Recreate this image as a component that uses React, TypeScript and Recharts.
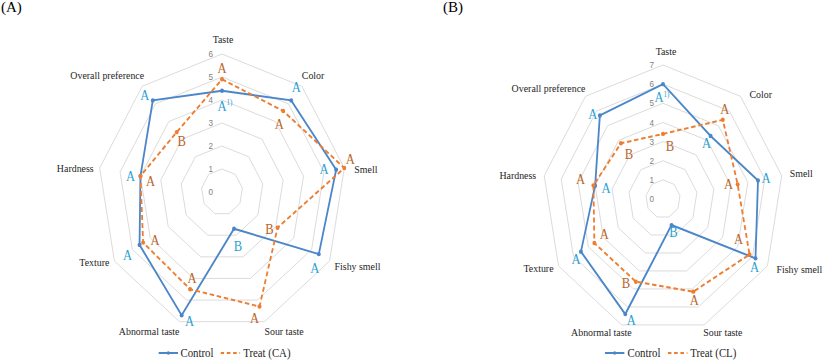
import React from 'react';
import {
  RadarChart,
  Radar,
  PolarGrid,
  PolarAngleAxis,
  PolarRadiusAxis,
  Legend,
} from 'recharts';

const attributes = [
  'Taste',
  'Color',
  'Smell',
  'Fishy smell',
  'Sour taste',
  'Abnormal taste',
  'Texture',
  'Hardness',
  'Overall preference',
];

// Panel (A): Control vs Treat (CA)
const controlA = [4.4, 5.2, 5.6, 5.4, 1.7, 5.7, 4.6, 4.0, 5.2];
const treatCA = [4.9, 4.6, 6.0, 3.1, 5.3, 4.5, 4.4, 4.0, 3.4];
const controlLettersA = ['A', 'A', 'A', 'A', 'B', 'A', 'A', 'A', 'A'];
const treatLettersA = ['A', 'A', 'A', 'B', 'A', 'A', 'A', 'A', 'B'];
const ticksA = [0, 1, 2, 3, 4, 5, 6];

// Panel (B): Control vs Treat (CL)
const controlB = [6.0, 4.3, 5.6, 6.2, 1.45, 6.4, 5.5, 4.0, 5.7];
const treatCL = [3.4, 5.4, 4.4, 5.8, 5.15, 4.6, 4.6, 4.1, 3.8];
const controlLettersB = ['A', 'A', 'A', 'A', 'B', 'A', 'A', 'A', 'A'];
const treatLettersB = ['B', 'A', 'A', 'A', 'A', 'B', 'A', 'A', 'B'];
const ticksB = [0, 1, 2, 3, 4, 5, 6, 7];

const BLUE = '#4a86c8';
const ORANGE = '#ed7d31';
const BLUE_TXT = '#2b9fd3';
const BROWN_TXT = '#b8642a';
const SERIF = "'Liberation Serif', 'Times New Roman', serif";
const SANS = "'Liberation Sans', Arial, sans-serif";
const SX = 0.9; // the figure is squeezed horizontally

// where each significance letter sits relative to its point (screen px)
const ctrlNudgeA = [[0, 15], [5, -13], [-12, 0], [-4, 14], [4, 18], [8, 6], [-12, 10], [-10, 0], [-8, -5]];
const treatNudgeA = [[0, -11], [-4, 13], [6, -9], [-8, 2], [-5, 12], [2, -11], [12, -2], [10, 5], [5, 9]];
const ctrlNudgeB = [[-4, 13], [-4, 7], [8, -2], [-1, 9], [2, 7], [6, 6], [-5, 8], [11, 3], [-7, -1]];
const treatNudgeB = [[7, 12], [2, -11], [-9, 0], [-11, -15], [1, 9], [-10, 2], [10, -9], [-13, -6], [8, 11]];

// category label offsets from the outer vertex (screen px)
const labelOffA = [[1, -15], [0, -11], [10, 1], [5, 5], [0, 10], [0, 10], [-5, 1], [-6, 0], [2, -11]];
const labelOffB = [[3, -14], [9, -2], [8, -2], [9, 3], [-1, 7], [10, 7], [-5, 2], [-8, 0], [0, -8]];

function buildRows(ctrl: number[], treat: number[]) {
  return attributes.map((name, i) => ({ name, control: ctrl[i], treat: treat[i] }));
}

function makeDot(color: string, letters: string[], nudge: number[][], txtColor: string, withNote: boolean) {
  return (p: any) => {
    const i = p.index;
    const lx = p.cx + nudge[i][0] / SX;
    const ly = p.cy + nudge[i][1];
    return (
      <g key={`d-${i}`}>
        <circle cx={p.cx} cy={p.cy} r={2.2} fill={color} stroke="none" />
        <text x={lx} y={ly} textAnchor="middle" dominantBaseline="central" fill={txtColor} fontSize={14} style={{ fontFamily: SERIF }}>
          {letters[i]}
        </text>
        {withNote && i === 0 ? (
          <text x={lx + 5} y={ly - 3} textAnchor="start" dominantBaseline="central" fill={txtColor} fontSize={8} style={{ fontFamily: SERIF }}>
            1)
          </text>
        ) : null}
      </g>
    );
  };
}

function makeAngleTick(cx: number, cy: number, outer: number, offs: number[][]) {
  return (p: any) => {
    const label = String(p.payload.value);
    const i = attributes.indexOf(label);
    const dx = p.x - cx;
    const dy = p.y - cy;
    const len = Math.sqrt(dx * dx + dy * dy) || 1;
    const ux = dx / len;
    const uy = dy / len;
    const anchor = Math.abs(ux) < 0.1 ? 'middle' : ux > 0 ? 'start' : 'end';
    return (
      <text
        x={cx + ux * outer + offs[i][0] / SX}
        y={cy + uy * outer + offs[i][1]}
        textAnchor={anchor}
        dominantBaseline="central"
        fill="#262626"
        fontSize={11}
        style={{ fontFamily: SERIF }}
      >
        {label}
      </text>
    );
  };
}

const radiusTick = (p: any) => (
  <text x={p.x - 10} y={p.y} textAnchor="end" dominantBaseline="central" fill="#7f7f7f" fontSize={9} style={{ fontFamily: SANS }}>
    {p.payload.value}
  </text>
);

function LegendBox({ treatName }: { treatName: string }) {
  return (
    <div style={{ display: 'flex', alignItems: 'center', fontFamily: SERIF, fontSize: 12, color: '#262626', whiteSpace: 'nowrap', lineHeight: '14px' }}>
      <svg width={22} height={8} style={{ marginRight: 3 }}>
        <line x1={0} y1={4} x2={22} y2={4} stroke={BLUE} strokeWidth={2} />
        <circle cx={11} cy={4} r={1.8} fill={BLUE} />
      </svg>
      <span style={{ marginRight: 8 }}>Control</span>
      <svg width={22} height={8} style={{ marginRight: 3 }}>
        <line x1={0} y1={4} x2={22} y2={4} stroke={ORANGE} strokeWidth={2} strokeDasharray="4 3" />
      </svg>
      <span>{treatName}</span>
    </div>
  );
}

function Panel(props: {
  left: number;
  width: number;
  cx: number;
  cy: number;
  outer: number;
  max: number;
  ticks: number[];
  ctrl: number[];
  treat: number[];
  ctrlLetters: string[];
  treatLetters: string[];
  ctrlNudge: number[][];
  treatNudge: number[][];
  labelOff: number[][];
  treatName: string;
  tag: string;
  tagX: number;
  legendX: number;
}) {
  const rows = buildRows(props.ctrl, props.treat);
  const w = props.width / SX;
  const cx = props.cx / SX;
  return (
    <div style={{ position: 'absolute', left: props.left, top: 0, width: props.width, height: 361 }}>
      <div style={{ position: 'absolute', left: props.tagX, top: -1, fontFamily: SERIF, fontSize: 15, color: '#000' }}>{props.tag}</div>
      <div style={{ position: 'absolute', left: 0, top: 0, width: w, height: 361, transform: `scaleX(${SX})`, transformOrigin: '0 0' }}>
        <RadarChart
          width={w}
          height={361}
          data={rows}
          cx={cx}
          cy={props.cy}
          outerRadius={props.outer}
          margin={{ top: 0, right: 0, bottom: 0, left: 0 }}
        >
          <PolarGrid gridType="polygon" radialLines={false} stroke="#d9d9d9" />
          <PolarAngleAxis dataKey="name" axisLine={false} tickLine={false} tick={makeAngleTick(cx, props.cy, props.outer, props.labelOff)} />
          <PolarRadiusAxis
            angle={90}
            domain={[0, props.max]}
            ticks={props.ticks as any}
            tickCount={props.ticks.length}
            axisLine={false}
            tickLine={false}
            tick={radiusTick}
          />
          <Radar
            name="Control"
            dataKey="control"
            stroke={BLUE}
            strokeWidth={2}
            fill="none"
            fillOpacity={0}
            dot={makeDot(BLUE, props.ctrlLetters, props.ctrlNudge, BLUE_TXT, true)}
            isAnimationActive={false}
          />
          <Radar
            name={props.treatName}
            dataKey="treat"
            stroke={ORANGE}
            strokeWidth={2}
            strokeDasharray="5 3"
            fill="none"
            fillOpacity={0}
            dot={makeDot(ORANGE, props.treatLetters, props.treatNudge, BROWN_TXT, false)}
            isAnimationActive={false}
          />
          <Legend
            content={() => <LegendBox treatName={props.treatName} />}
            wrapperStyle={{ left: props.legendX / SX, top: 346, width: 180, bottom: 'auto' }}
          />
        </RadarChart>
      </div>
    </div>
  );
}

export default function App() {
  return (
    <div style={{ position: 'absolute', left: 0, top: 0, width: 827, height: 361, background: '#fff', overflow: 'hidden' }}>
      <Panel
        left={0}
        width={414}
        cx={222}
        cy={192}
        outer={138}
        max={6}
        ticks={ticksA}
        ctrl={controlA}
        treat={treatCA}
        ctrlLetters={controlLettersA}
        treatLetters={treatLettersA}
        ctrlNudge={ctrlNudgeA}
        treatNudge={treatNudgeA}
        labelOff={labelOffA}
        treatName="Treat (CA)"
        tag="(A)"
        tagX={1}
        legendX={158}
      />
      <Panel
        left={414}
        width={413}
        cx={249}
        cy={199}
        outer={134}
        max={7}
        ticks={ticksB}
        ctrl={controlB}
        treat={treatCL}
        ctrlLetters={controlLettersB}
        treatLetters={treatLettersB}
        ctrlNudge={ctrlNudgeB}
        treatNudge={treatNudgeB}
        labelOff={labelOffB}
        treatName="Treat (CL)"
        tag="(B)"
        tagX={29}
        legendX={191}
      />
    </div>
  );
}
